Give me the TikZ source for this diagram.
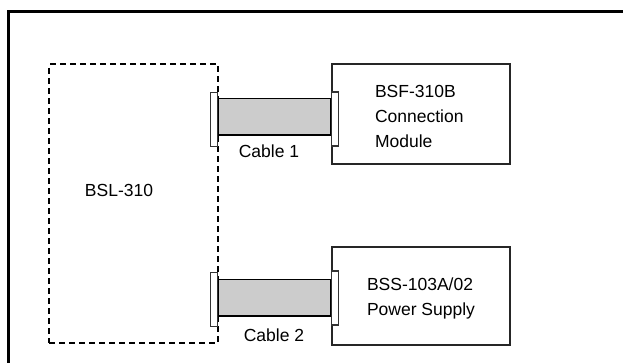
\documentclass[tikz,border=0pt]{standalone}
\usepackage{fontspec}
\setmainfont{Liberation Sans}
\begin{document}
\begin{tikzpicture}[x=1pt,y=-1pt,
  lbl/.style={font=\fontsize{17.5}{25}\selectfont, inner sep=0pt, outer sep=0pt},
  unitbox/.style={draw=black!85, line width=1.5pt, inner sep=0pt, outer sep=0pt},
  cablebar/.style={draw=black, line width=1.6pt, fill=black!20, inner sep=0pt, outer sep=0pt, minimum width=113pt, minimum height=36.6pt},
  plug/.style={draw=black!80, line width=1.1pt, fill=white, inner sep=0pt, outer sep=0pt, minimum width=7.6pt, minimum height=54pt}]
\useasboundingbox (0,0) rectangle (623,363);
% outer frame (left and top edges visible)
\draw[line width=3pt, black] (8,370) -- (8,11.5) -- (630,11.5);
% BSL-310 (dashed)
\node[draw=black, line width=1.9pt, dash pattern=on 6pt off 4pt, inner sep=0pt,
      minimum width=168.7pt, minimum height=279pt] (bsl) at (133.65,203.8) {};
\node[lbl, anchor=base] (bsltext) at (119,197) {BSL-310};
% right boxes
\node[unitbox, minimum width=178pt, minimum height=100pt] (bsf) at (421,114.2) {};
\node[unitbox, minimum width=178pt, minimum height=98pt] (bss) at (421,296) {};
\node[lbl, anchor=base west] (bsftext) at (375,98)
  {\begin{tabular}[t]{@{}l@{}}BSF-310B\\Connection\\Module\end{tabular}};
\node[lbl, anchor=base west] (bsstext) at (367,290)
  {\begin{tabular}[t]{@{}l@{}}BSS-103A/02\\Power Supply\end{tabular}};
% cable 1
\node[cablebar] (c1) at (274.5,117) {};
\node[plug] (p1l) at (214,119.7) {};
\node[plug] (p1r) at (335,119) {};
\node[lbl, anchor=base] (c1text) at (269,157.3) {Cable 1};
% cable 2
\node[cablebar] (c2) at (274.5,297.7) {};
\node[plug] (p2l) at (214,299.7) {};
\node[plug] (p2r) at (335,298) {};
\node[lbl, anchor=base] (c2text) at (274,341.7) {Cable 2};
\end{tikzpicture}
\end{document}
